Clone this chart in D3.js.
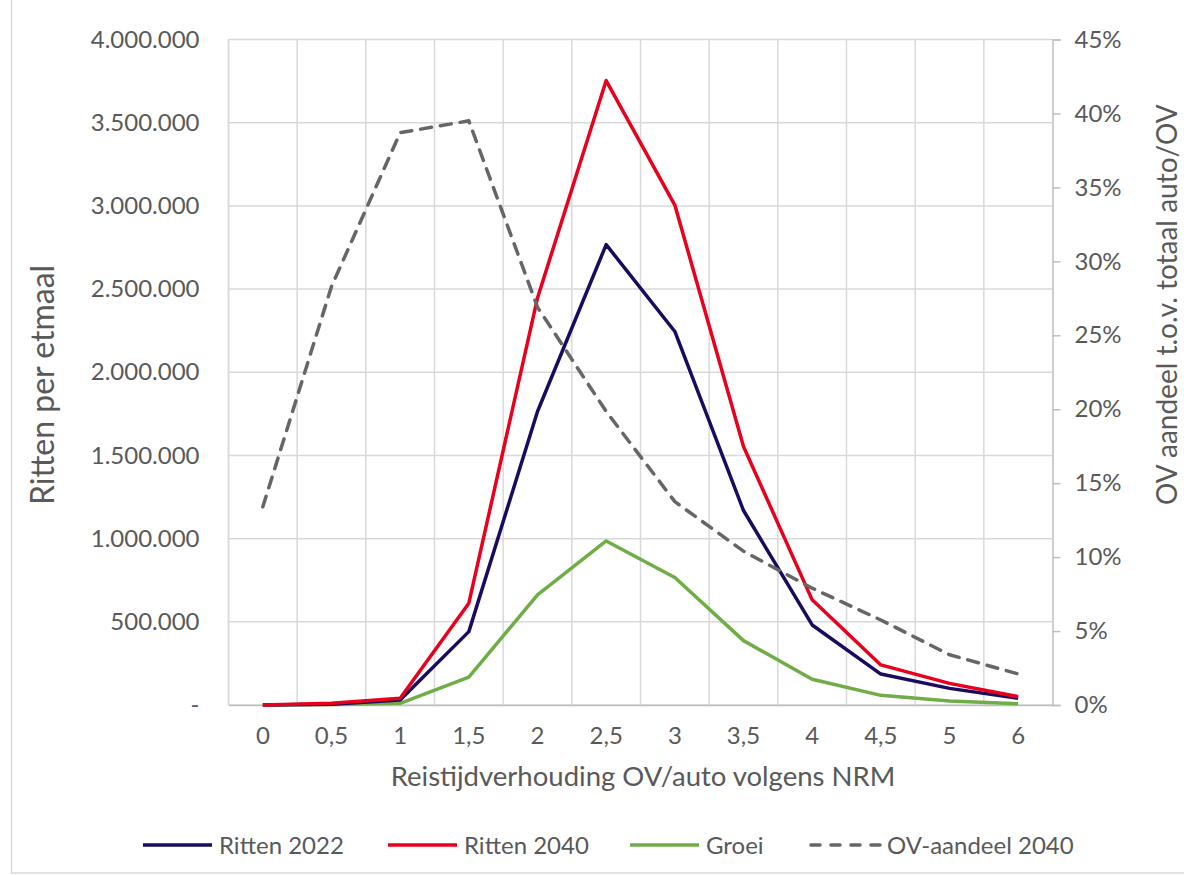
<!DOCTYPE html>
<html><head><meta charset="utf-8">
<script src="https://cdn.jsdelivr.net/npm/d3@7"></script>
<style>body{margin:0;background:#fff}svg{display:block}text{font-family:Lato,"Noto Sans",sans-serif;fill:#595959}</style>
</head><body>
<svg id="c" width="1184" height="875"></svg>
<script>
const categories = ["0","0,5","1","1,5","2","2,5","3","3,5","4","4,5","5","6"];
const ritten2022 = [0, 5000, 30000, 441000, 1764000, 2767000, 2245000, 1169000, 481000, 186000, 100000, 40000];
const ritten2040 = [0, 10000, 40000, 612000, 2446000, 3753000, 3005000, 1554000, 632000, 241000, 130000, 50000];
const groei = [0, 3000, 10000, 167000, 662000, 986000, 766000, 387000, 155000, 58000, 24000, 8000];
const ovAandeel2040 = [0.134, 0.283, 0.387, 0.395, 0.269, 0.1985, 0.1375, 0.104, 0.079, 0.0575, 0.034, 0.021];
const leftTicks = [0, 500000, 1000000, 1500000, 2000000, 2500000, 3000000, 3500000, 4000000];
const rightTicks = [0, 0.05, 0.10, 0.15, 0.20, 0.25, 0.30, 0.35, 0.40, 0.45];
const seriesNames = ["Ritten 2022", "Ritten 2040", "Groei", "OV-aandeel 2040"];

const svg = d3.select("#c");
const L = 228.5, R = 1052.5, T = 39.5, B = 705;
const x = d3.scaleBand().domain(categories).range([L, R]);
const yL = d3.scaleLinear().domain([0, 4000000]).range([B, T]);
const yR = d3.scaleLinear().domain([0, 0.45]).range([B, T]);
const cx = c => x(c) + x.bandwidth() / 2;

// frame
svg.append("rect").attr("x", 11.5).attr("y", -5).attr("width", 1180).attr("height", 878)
  .attr("fill", "none").attr("stroke", "#d9d9d9").attr("stroke-width", 1.5);

const grid = svg.append("g");
leftTicks.forEach(t => {
  grid.append("line").attr("x1", L).attr("x2", R).attr("y1", yL(t)).attr("y2", yL(t))
    .attr("stroke", "#d9d9d9").attr("stroke-width", 1.5);
});
categories.forEach(c => {
  grid.append("line").attr("x1", x(c)).attr("x2", x(c)).attr("y1", T).attr("y2", B)
    .attr("stroke", "#d9d9d9").attr("stroke-width", 1.5);
});
grid.append("line").attr("x1", L).attr("x2", L).attr("y1", T).attr("y2", B).attr("stroke", "#d9d9d9").attr("stroke-width", 1.5);

// left axis
const fmt = v => v === 0 ? "-" : d3.format(",")(v).replace(/,/g, ".");
const axL = svg.append("g").attr("transform", `translate(${L},0)`)
  .call(d3.axisLeft(yL).tickValues(leftTicks).tickFormat(fmt).tickSize(0).tickPadding(29));
axL.select(".domain").remove();
axL.selectAll("text").style("font-size", "24px").attr("fill", "#595959");

// right axis
const axR = svg.append("g").attr("transform", `translate(${R},0)`)
  .call(d3.axisRight(yR).tickValues(rightTicks).tickFormat(d3.format(".0%")).tickSize(8).tickPadding(14));
axR.select(".domain").attr("stroke", "#bfbfbf").attr("stroke-width", 1.5);
axR.selectAll("line").attr("stroke", "#bfbfbf").attr("stroke-width", 1.5);
axR.selectAll("text").style("font-size", "24px").attr("fill", "#595959");

// bottom axis
const axB = svg.append("g").attr("transform", `translate(0,${B})`)
  .call(d3.axisBottom(x).tickSize(0).tickPadding(22));
axB.select(".domain").attr("stroke", "#bfbfbf").attr("stroke-width", 1.5);
axB.selectAll("text").style("font-size", "24px").attr("fill", "#595959");

// titles
svg.append("text").attr("x", 643).attr("y", 786).attr("text-anchor", "middle").style("font-size", "27.5px").text("Reistijdverhouding OV/auto volgens NRM");
svg.append("text").attr("transform", "translate(54,505) rotate(-90)").attr("text-anchor", "start").style("font-size", "32px").text("Ritten per etmaal");
svg.append("text").attr("transform", "translate(1177,505) rotate(-90)").attr("text-anchor", "start").style("font-size", "28px").text("OV aandeel t.o.v. totaal auto/OV");

// lines
const lineL = d3.line().x((d, i) => cx(categories[i])).y(d => yL(d));
const lineR = d3.line().x((d, i) => cx(categories[i])).y(d => yR(d));
const colors = ["#1b0b5e", "#e8001c", "#70ad47", "#666666"];
svg.append("path").datum(groei).attr("d", lineL).attr("fill", "none").attr("stroke", colors[2]).attr("stroke-width", 3.5).attr("stroke-linejoin", "round");
svg.append("path").datum(ritten2022).attr("d", lineL).attr("fill", "none").attr("stroke", colors[0]).attr("stroke-width", 3.5).attr("stroke-linejoin", "round");
svg.append("path").datum(ritten2040).attr("d", lineL).attr("fill", "none").attr("stroke", colors[1]).attr("stroke-width", 3.5).attr("stroke-linejoin", "round");
svg.append("path").datum(ovAandeel2040).attr("d", lineR).attr("fill", "none").attr("stroke", colors[3]).attr("stroke-width", 3.5)
  .attr("stroke-dasharray", "11,9").attr("stroke-linecap", "round").attr("stroke-linejoin", "round");

// legend
const legX = [143, 388, 630, 811];
const lg = svg.append("g");
seriesNames.forEach((n, i) => {
  const g = lg.append("g").attr("transform", `translate(${legX[i]},845)`);
  g.append("line").attr("x1", 0).attr("x2", 69).attr("y1", 0).attr("y2", 0).attr("stroke", colors[i]).attr("stroke-width", 3.5)
    .attr("stroke-dasharray", i === 3 ? "9,11" : null).attr("stroke-linecap", i === 3 ? "round" : "butt");
  g.append("text").attr("x", 76).attr("y", 9).style("font-size", "24px").text(n);
});
</script>
</body></html>
